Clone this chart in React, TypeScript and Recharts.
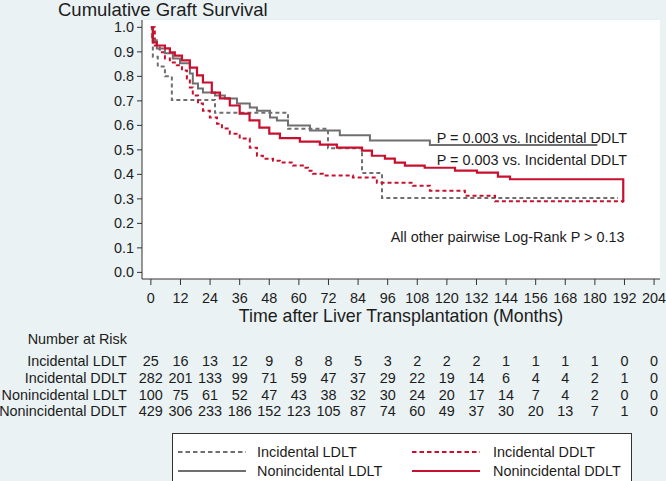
import React from 'react'
import { LineChart, Line, XAxis, YAxis, CartesianGrid, Legend, ReferenceDot } from 'recharts'

const FONT = '"Liberation Sans", Arial, sans-serif'
const INK = '#1c1c1c'
const GRAY = '#6f6f6f'
const RED = '#c8102e'

const monthTicks = [0, 12, 24, 36, 48, 60, 72, 84, 96, 108, 120, 132, 144, 156, 168, 180, 192, 204]
const survTicks = [0, 0.1, 0.2, 0.3, 0.4, 0.5, 0.6, 0.7, 0.8, 0.9, 1.0]

// Kaplan-Meier steps (months, survival)
const incLdltTime = [0, 0.4, 0.8, 2.8, 5.7, 8.5, 26, 55.6, 71.8, 85.6, 93.7, 189.4]
const incLdltSurv = [1, 0.96, 0.88, 0.84, 0.8, 0.704, 0.651, 0.586, 0.507, 0.406, 0.304, 0.304]

const incDdltTime = [0, 1.6, 3.6, 5.7, 7.7, 10.5, 12.6, 14.6, 15.8, 17, 19.1, 21.1, 23.9, 26.8, 28.8, 32, 36, 40.1, 43, 45.4, 49.5, 52.3, 57.6, 61.6, 63.7, 65.7, 69.7, 81.9, 91.6, 106.2, 113.1, 127.3, 139.5, 191.5]
const incDdltSurv = [1, 0.926, 0.898, 0.873, 0.857, 0.845, 0.824, 0.791, 0.755, 0.722, 0.689, 0.66, 0.632, 0.607, 0.587, 0.566, 0.546, 0.509, 0.476, 0.464, 0.456, 0.448, 0.436, 0.427, 0.415, 0.403, 0.395, 0.387, 0.366, 0.354, 0.333, 0.313, 0.29, 0.288]

const nonLdltTime = [0, 0.8, 2.4, 5.7, 8.9, 11.8, 15.8, 17, 19.1, 21.1, 26, 30, 34.9, 40.1, 43, 48.3, 51.1, 55.6, 64.5, 76.6, 88.8, 113.1, 181]
const nonLdltSurv = [1, 0.947, 0.914, 0.894, 0.873, 0.853, 0.812, 0.771, 0.75, 0.734, 0.722, 0.71, 0.689, 0.673, 0.66, 0.632, 0.62, 0.599, 0.579, 0.56, 0.538, 0.52, 0.52]

const nonDdltTime = [0, 0.8, 2.4, 5.7, 7.7, 9.7, 12.6, 15.8, 18.7, 21.1, 24.7, 28, 32, 36, 40, 44, 48, 52.3, 60.4, 68.5, 75.4, 85.6, 89.6, 94.9, 98.9, 103, 111, 123.3, 132.2, 140.7, 145.6, 191.5, 191.6]
const nonDdltSurv = [1, 0.939, 0.926, 0.914, 0.898, 0.885, 0.865, 0.836, 0.804, 0.775, 0.734, 0.71, 0.681, 0.648, 0.62, 0.591, 0.566, 0.548, 0.534, 0.521, 0.509, 0.497, 0.476, 0.464, 0.448, 0.436, 0.427, 0.415, 0.407, 0.391, 0.38, 0.288, 0.288]

// number at risk, one value per month tick
const riskLabels = ['Incidental LDLT', 'Incidental DDLT', 'Nonincidental LDLT', 'Nonincidental DDLT']
const riskIncLdlt = [25, 16, 13, 12, 9, 8, 8, 5, 3, 2, 2, 2, 1, 1, 1, 1, 0, 0]
const riskIncDdlt = [282, 201, 133, 99, 71, 59, 47, 37, 29, 22, 19, 14, 6, 4, 4, 2, 1, 0]
const riskNonLdlt = [100, 75, 61, 52, 47, 43, 38, 32, 30, 24, 20, 17, 14, 7, 4, 2, 0, 0]
const riskNonDdlt = [429, 306, 233, 186, 152, 123, 105, 87, 74, 60, 49, 37, 30, 20, 13, 7, 1, 0]
const riskRows = [riskIncLdlt, riskIncDdlt, riskNonLdlt, riskNonDdlt]

const toPoints = (t: number[], s: number[]) => t.map((m, i) => ({ month: m, surv: s[i] }))

// legend order (2 x 2)
const series = [
  { name: 'Incidental LDLT', data: toPoints(incLdltTime, incLdltSurv), color: GRAY, dash: '4 3', width: 2 },
  { name: 'Incidental DDLT', data: toPoints(incDdltTime, incDdltSurv), color: RED, dash: '4 3', width: 2 },
  { name: 'Nonincidental LDLT', data: toPoints(nonLdltTime, nonLdltSurv), color: GRAY, dash: undefined, width: 2 },
  { name: 'Nonincidental DDLT', data: toPoints(nonDdltTime, nonDdltSurv), color: RED, dash: undefined, width: 2.2 },
]

const txt = { fontFamily: FONT, fill: INK }

const MonthTick = (props: any) => {
  const { x, y, payload } = props
  const i = monthTicks.indexOf(payload.value)
  const rowOff = [76, 93, 109.5, 126]
  return (
    <g>
      <text x={x} y={y + 13} textAnchor="middle" dominantBaseline="central" fontSize={14.4} {...txt}>
        {payload.value}
      </text>
      {riskRows.map((r, k) => (
        <text key={k} x={x} y={y + rowOff[k]} textAnchor="middle" dominantBaseline="central" fontSize={14.4} {...txt}>
          {r[i]}
        </text>
      ))}
      {i === 0 && (
        <g>
          <text x={x - 24} y={y + 54} textAnchor="end" dominantBaseline="central" fontSize={14.4} {...txt}>
            Number at Risk
          </text>
          {riskLabels.map((l, k) => (
            <text key={l} x={x - 24} y={y + rowOff[k]} textAnchor="end" dominantBaseline="central" fontSize={14.4} {...txt}>
              {l}
            </text>
          ))}
        </g>
      )}
    </g>
  )
}

const AxisTitle = (props: any) => {
  const vb = props.viewBox
  return (
    <text x={vb.x + vb.width / 2} y={vb.y + 37} textAnchor="middle" dominantBaseline="central" fontSize={17.8} {...txt}>
      Time after Liver Transplantation (Months)
    </text>
  )
}

const Note = (label: string) => (p: any) => (
  <text x={p.cx} y={p.cy} textAnchor="end" dominantBaseline="central" fontSize={14.4} {...txt}>
    {label}
  </text>
)

const LegendBox = () => (
  <div style={{ position: 'relative', width: 460, height: 50, background: '#fff', border: '1px solid #333', boxSizing: 'border-box', fontFamily: FONT }}>
    {series.map((s, i) => {
      const row = Math.floor(i / 2)
      const col = i % 2
      const cy = row ? 37 : 18
      return (
        <React.Fragment key={s.name}>
          <svg style={{ position: 'absolute', left: col ? 239 : 5, top: cy - 3 }} width={68} height={6}>
            <line x1={0} x2={68} y1={3} y2={3} stroke={s.color} strokeWidth={s.width} strokeDasharray={s.dash ? '4.5 3' : undefined} />
          </svg>
          <div style={{ position: 'absolute', left: col ? 320 : 84, top: cy - 9, fontSize: 14.4, lineHeight: '18px', color: INK, whiteSpace: 'nowrap' }}>
            {s.name}
          </div>
        </React.Fragment>
      )
    })}
  </div>
)

export default function App() {
  return (
    <div style={{ position: 'absolute', left: 0, top: 0, width: 666, height: 481, background: '#eaf2f3', overflow: 'hidden' }}>
      <div style={{ position: 'absolute', left: 58, top: 0, fontFamily: FONT, fontSize: 18.5, lineHeight: '19px', color: INK, whiteSpace: 'nowrap' }}>
        Cumulative Graft Survival
      </div>
      <LineChart width={666} height={481} margin={{ top: 20, right: 6, left: 0, bottom: 0 }}>
        <rect x={142} y={20} width={518} height={259} fill="#fff" />
        <CartesianGrid vertical={false} stroke="#e3ecef" strokeWidth={1} fill="#fff" />
        <XAxis
          dataKey="month"
          type="number"
          domain={[-3.6, 206.4]}
          ticks={monthTicks}
          height={202}
          tickSize={6}
          tickMargin={0}
          stroke="#333"
          tick={<MonthTick />}
          interval={0}
          label={{ content: <AxisTitle /> } as any}
        />
        <YAxis
          type="number"
          domain={[-0.027, 1.03]}
          ticks={survTicks}
          width={142}
          tickSize={5}
          tickMargin={3}
          stroke="#333"
          interval={0}
          tickFormatter={(v: number) => v.toFixed(1)}
          tick={{ fontSize: 14.4, fill: INK, fontFamily: FONT }}
        />
        {series.map((s) => (
          <Line
            key={s.name}
            data={s.data}
            dataKey="surv"
            name={s.name}
            type="stepAfter"
            stroke={s.color}
            strokeWidth={s.width}
            strokeDasharray={s.dash}
            dot={false}
            activeDot={false}
            isAnimationActive={false}
          />
        ))}
        <ReferenceDot x={193} y={0.549} r={0} shape={Note('P = 0.003 vs. Incidental DDLT')} />
        <ReferenceDot x={193} y={0.459} r={0} shape={Note('P = 0.003 vs. Incidental DDLT')} />
        <ReferenceDot x={192} y={0.146} r={0} shape={Note('All other pairwise Log-Rank P > 0.13')} />
        <Legend
          layout="horizontal"
          verticalAlign="middle"
          align="center"
          content={<LegendBox />}
          wrapperStyle={{ position: 'absolute', left: 172, top: 433, width: 460, height: 50 }}
        />
      </LineChart>
    </div>
  )
}
